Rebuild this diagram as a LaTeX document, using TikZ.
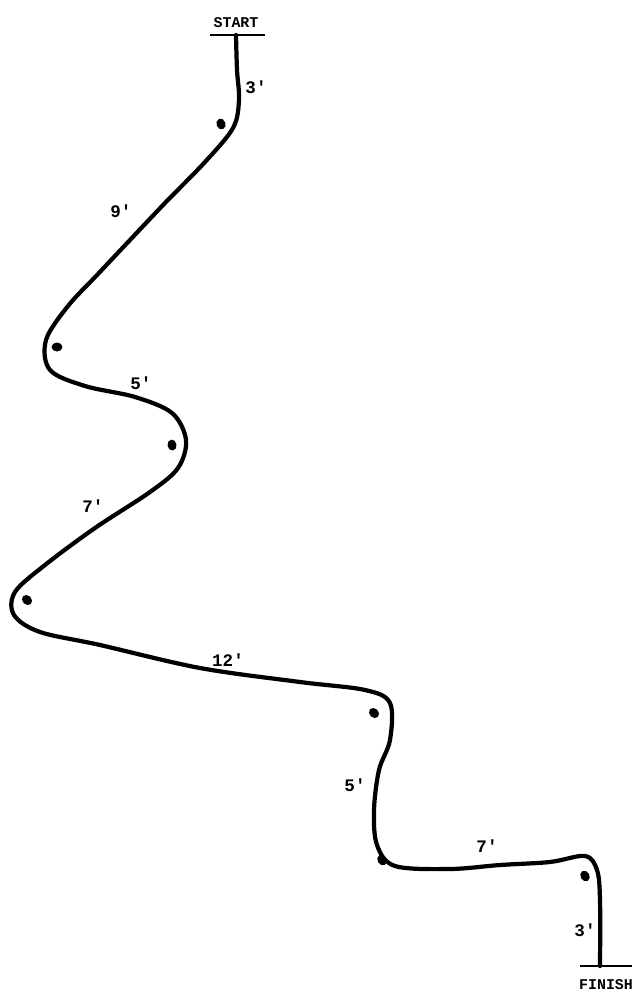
\documentclass[tikz,border=0pt]{standalone}
\usepackage{fontspec}
\setmonofont{Liberation Mono}
\begin{document}
\begin{tikzpicture}[x=0.02cm,y=-0.02cm,
  course/.style={line width=2.4pt, line cap=round, line join=round},
  dist/.style={font=\ttfamily\bfseries\fontsize{10}{12}\selectfont},
  mark label/.style={font=\ttfamily\bfseries\fontsize{8.5}{10}\selectfont}]

% ----- Frame -----
\useasboundingbox (0,0) rectangle (634,997);

% ----- Start and finish -----
\coordinate (S) at (236,35);
\coordinate (F) at (600,966);
\draw[line width=1.6pt] (210,35) -- (265,35);
\draw[line width=1.6pt] (580,966) -- (632,966);
\node[mark label] (start) at (236,23) {START};
\node[mark label] (finish) at (606,985) {FINISH};

% ----- Cones -----
\coordinate (c1) at (221,124);
\coordinate (c2) at (57,347);
\coordinate (c3) at (172,445);
\coordinate (c4) at (27,600);
\coordinate (c5) at (374,713);
\coordinate (c6) at (382,860);
\coordinate (c7) at (585,876);

\foreach \c/\a in {c1/20,c2/90,c3/10,c4/45,c5/45,c6/30,c7/30} {
  \fill[rotate around={\a:(\c)}] (\c) ellipse[x radius=4.5, y radius=5.5];
}

% ----- Course line -----
\draw[course] plot[smooth, tension=0.55] coordinates {
  (S) (237,70) (239,100) (233,128) (205,162) (165,203) (130,240)
  (98,274) (68,306) (46,340) (50,370) (85,386) (135,397) (172,413)
  (186,440) (178,468) (150,492) (95,528) (45,565) (15,592)
  (14,615) (40,632) (100,645) (200,668) (300,682) (365,690)
  (390,703) (390,740) (379,770) (374,810) (377,845) (395,866)
  (450,869) (500,865) (550,862) (585,856) (597,870) (600,900)
  (F)};

% ----- Distances -----
\node[dist] (d1) at (256,87) {3'};
\node[dist] (d2) at (121,211) {9'};
\node[dist] (d3) at (141,383) {5'};
\node[dist] (d4) at (93,506) {7'};
\node[dist] (d5) at (228,660) {12'};
\node[dist] (d6) at (355,785) {5'};
\node[dist] (d7) at (487,846) {7'};
\node[dist] (d8) at (585,930) {3'};

\end{tikzpicture}
\end{document}
